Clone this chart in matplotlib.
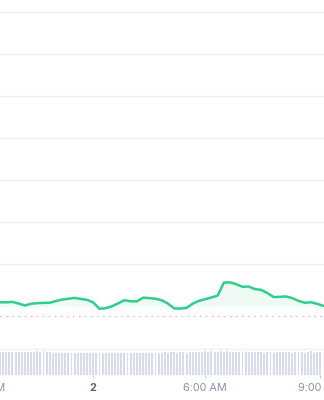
import numpy as np
import matplotlib
matplotlib.use("Agg")
import matplotlib.pyplot as plt

# ---- data (10-minute price samples, 5-minute volume samples) ----
price = [1.0020, 1.0020, 1.0022, 1.0014, 1.0005, 1.0013, 1.0016, 1.0017, 1.0018, 1.0026,
         1.0033, 1.0037, 1.0041, 1.0036, 1.0032, 1.0019, 0.9989, 0.9992, 1.0001, 1.0015,
         1.0030, 1.0025, 1.0024, 1.0042, 1.0040, 1.0037, 1.0030, 1.0014, 0.9991, 0.9990,
         0.9993, 1.0014, 1.0027, 1.0035, 1.0043, 1.0052, 1.0114, 1.0115, 1.0106, 1.0094,
         1.0095, 1.0083, 1.0079, 1.0064, 1.0045, 1.0046, 1.0048, 1.0040, 1.0027, 1.0018,
         1.0020, 1.0013, 1.0003]
open_price = 0.9955

volume = [23.0, 22.6, 23.2, 22.8, 22.4, 23.1, 22.7, 22.9, 23.3, 22.5, 22.8, 23.0, 23.4, 23.2, 23.5, 23.3, 23.1,
          21.8, 21.6, 21.9, 21.7, 21.5, 21.8, 22.0, 21.6, 21.7, 21.9, 21.5, 21.8, 21.6, 22.1, 21.7, 21.9,
          21.6, 21.8, 22.0, 21.7, 21.5, 21.9, 21.8, 21.6, 22.2, 21.9, 21.7, 22.0, 21.8, 21.6, 22.1, 21.9,
          21.7, 22.0,
          22.3, 21.9, 22.6, 22.1, 22.8, 22.4, 21.8, 22.7, 23.0, 22.2, 22.9, 22.5, 23.1,
          23.2, 22.8, 23.4, 23.0, 23.5, 23.1, 22.9, 23.4, 23.2, 23.6, 23.0, 23.3, 22.7, 23.1, 23.5, 22.6,
          22.9, 22.4, 23.0, 22.5, 22.8, 22.2, 22.7, 22.9, 22.3, 22.6, 23.1, 22.4, 22.8, 23.2, 22.1, 23.0,
          22.5, 23.3, 21.9, 22.8, 23.4, 22.2, 22.9, 23.0]

tick_positions = [-5.2, 30, 66, 103]          # in 5-minute samples
tick_labels = ["9:00 PM", "2", "6:00 AM", "9:00 AM"]
grid_levels = [0.98, 1.00, 1.02, 1.04, 1.06, 1.08, 1.10, 1.12, 1.14]

price_x = np.arange(len(price)) * 2
vol_x = np.arange(len(volume))

LINE = "#2fce8a"
FILL = "#f0faf5"
GRID = "#eef0f4"
BAR = "#d6dcec"
LABEL = "#8a93a6"
LABEL_DARK = "#5b6478"

fig = plt.figure(figsize=(3.24, 4.00), dpi=100)
fig.patch.set_facecolor("white")

xlim = (0, 104.2)

# ---- price axes ----
ax = fig.add_axes([0, 0.125, 1, 0.875])
for g in grid_levels:
    ax.axhline(g, color=GRID, lw=0.9, zorder=0)
ax.fill_between(price_x, price, 1.0, color=FILL, lw=0, zorder=1)
ax.axhline(open_price, color="#b4b8c2", lw=0.75, dashes=(1.3, 4.5), zorder=2)
ax.plot(price_x, price, color=LINE, lw=1.8, solid_joinstyle="round",
        solid_capstyle="round", zorder=3)
ax.set_xticks([])
ax.set_yticks([])
ax.set_xlim(*xlim)
ax.set_ylim(0.979286, 1.14595)
for s in ax.spines.values():
    s.set_visible(False)
ax.patch.set_alpha(0)

# ---- volume axes ----
vax = fig.add_axes([0, 0.0625, 1, 0.06])
vax.bar(vol_x, volume, width=0.62, color=BAR, lw=0)
vax.set_yticks([])
vax.set_xlim(*xlim)
vax.set_ylim(0, 23.8)
in_range = [(p, t) for p, t in zip(tick_positions, tick_labels) if xlim[0] <= p <= xlim[1]]
vax.set_xticks([p for p, _ in in_range])
vax.set_xticklabels([""] * len(in_range))
vax.set_xlim(*xlim)
vax.tick_params(axis="x", length=2.2, width=0.8, color="#c3c8d3")

for p, t in zip(tick_positions, tick_labels):
    bold = t == "2"
    vax.annotate(t, xy=(p, 0), xycoords=("data", "axes fraction"),
                 xytext=(0, -6.0), textcoords="offset points",
                 ha="center", va="top", fontsize=7.8,
                 family=["Inter", "DejaVu Sans"],
                 fontweight="bold" if bold else "normal",
                 color=LABEL_DARK if bold else LABEL,
                 annotation_clip=False)
for s in vax.spines.values():
    s.set_visible(False)
vax.patch.set_alpha(0)

fig.savefig("out.png", dpi=100, facecolor="white")
